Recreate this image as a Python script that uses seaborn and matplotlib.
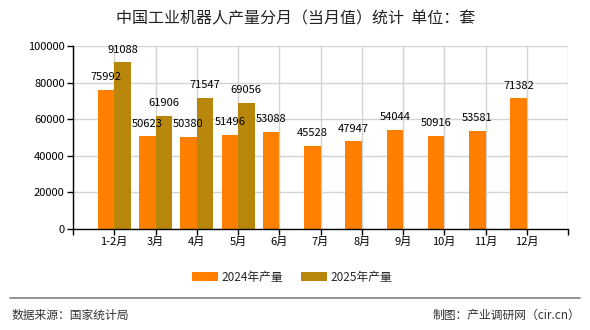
import numpy as np
import pandas as pd
import matplotlib
matplotlib.use("Agg")
import matplotlib.pyplot as plt
import seaborn as sns
from matplotlib.patches import Patch
from matplotlib.lines import Line2D

months = ["1-2月", "3月", "4月", "5月", "6月", "7月", "8月", "9月", "10月", "11月", "12月"]
v2024 = [75992, 50623, 50380, 51496, 53088, 45528, 47947, 54044, 50916, 53581, 71382]
v2025 = [91088, 61906, 71547, 69056, np.nan, np.nan, np.nan, np.nan, np.nan, np.nan, np.nan]
series = ["2024年产量", "2025年产量"]
colors = ["#FF8000", "#B8860B"]
yticks = [0, 20000, 40000, 60000, 80000, 100000]

sns.set_theme(style="white")
plt.rcParams["font.family"] = ["Noto Sans CJK SC", "DejaVu Sans"]

df = pd.DataFrame({
    "month": months * 2,
    "value": v2024 + v2025,
    "series": [series[0]] * len(months) + [series[1]] * len(months),
})
df = df.dropna()

fig = plt.figure(figsize=(5.9, 3.3), dpi=100)
W, H = 590, 330
ax = fig.add_axes([73 / W, 1 - 229 / H, (568 - 73) / W, (229 - 46) / H])

sns.barplot(data=df, x="month", y="value", hue="series", order=months,
            hue_order=series, palette=colors, width=0.8, dodge=True,
            saturation=1, ax=ax, legend=False, errorbar=None,
            linewidth=0, edgecolor="none")

for cont in ax.containers:
    ax.bar_label(cont, labels=[f"{int(round(b.get_height()))}" for b in cont],
                 padding=5.5, fontsize=8, color="black")

ax.set_xlim(-1, 11)
ax.set_ylim(0, 100000)
ax.set_xticks(range(-1, 12))
ax.set_xticklabels([""] + months + [""], fontsize=8)
ax.set_yticks(yticks)
ax.set_yticklabels([str(v) for v in yticks], fontsize=8)
ax.set_xlabel("")
ax.set_ylabel("")
ax.grid(True, color="#D3D3D3", linewidth=1)
ax.set_axisbelow(True)
for s in ["top", "right"]:
    ax.spines[s].set_visible(False)
for s in ["left", "bottom"]:
    ax.spines[s].set_color("black")
    ax.spines[s].set_linewidth(1)
ax.tick_params(axis="both", which="both", direction="out", length=4, width=1,
               color="black", labelcolor="black", pad=2, bottom=True, left=True)

fig.text(296 / W, 1 - 19 / H, "中国工业机器人产量分月（当月值）统计  单位：套",
         ha="center", va="center", fontsize=11.5, color="#222222")

handles = [Patch(facecolor=c, edgecolor="none") for c in colors]
fig.legend(handles, series, loc="center", bbox_to_anchor=(292 / W, 1 - 277 / H),
           ncol=2, frameon=False, fontsize=8.5, handlelength=2.2, handleheight=0.8,
           handletextpad=0.3, columnspacing=1.5)

fig.add_artist(Line2D([10 / W, 580 / W], [1 - 298 / H, 1 - 298 / H],
                      color="#808080", linewidth=1.2, transform=fig.transFigure))
fig.text(12 / W, 1 - 315 / H, "数据来源：国家统计局", ha="left", va="center",
         fontsize=8.5, color="#333333")
fig.text(580 / W, 1 - 315 / H, "制图：产业调研网（cir.cn）", ha="right", va="center",
         fontsize=8.5, color="#333333")

fig.savefig("out.png", dpi=100)
